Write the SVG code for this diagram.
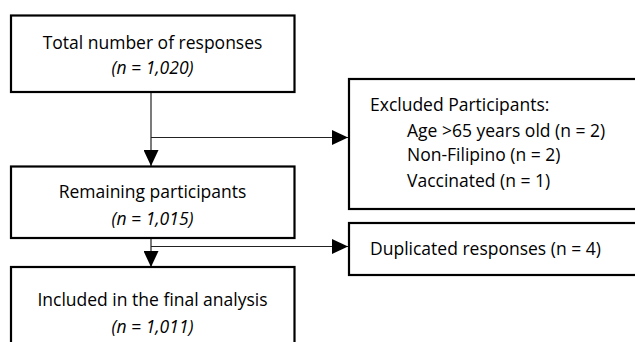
<svg xmlns="http://www.w3.org/2000/svg" width="635" height="342" viewBox="0 0 635 342">
<style>
.box{fill:#fff;stroke:#000;stroke-width:2.2}
.t{font-family:"Open Sans","Noto Sans",sans-serif;font-size:17.5px;fill:#000}
.c{text-anchor:middle}
.i{font-style:italic}
.ln{stroke:#222;stroke-width:1.2;fill:none}
</style>
<defs>
<marker id="ah" markerWidth="16" markerHeight="15" refX="16" refY="7.5" orient="auto" markerUnits="userSpaceOnUse">
<path d="M0,0 L16,7.5 L0,15 Z" fill="#000"/>
</marker>
</defs>
<g id="connectors">
<line class="ln" x1="151" y1="92" x2="151" y2="166" marker-end="url(#ah)"/>
<line class="ln" x1="151" y1="137.5" x2="348" y2="137.5" marker-end="url(#ah)"/>
<line class="ln" x1="151" y1="238" x2="151" y2="267" marker-end="url(#ah)"/>
<line class="ln" x1="151" y1="246.5" x2="348" y2="246.5" marker-end="url(#ah)"/>
</g>
<g id="total">
<rect class="box" x="11" y="15.5" width="283.5" height="76.5"/>
<text class="t c" x="152.5" y="48.5">Total number of responses</text>
<text class="t c i" x="152.5" y="73.5">(n = 1,020)</text>
</g>
<g id="excluded">
<rect class="box" x="349" y="79" width="300" height="130"/>
<text class="t" x="370" y="111">Excluded Participants:</text>
<text class="t" x="407" y="136.5">Age &gt;65 years old (n = 2)</text>
<text class="t" x="407" y="161">Non-Filipino (n = 2)</text>
<text class="t" x="407" y="186.5">Vaccinated (n = 1)</text>
</g>
<g id="remaining">
<rect class="box" x="11" y="166.5" width="283.5" height="71.5"/>
<text class="t c" x="152.5" y="197.5">Remaining participants</text>
<text class="t c i" x="152.5" y="225">(n = 1,015)</text>
</g>
<g id="duplicated">
<rect class="box" x="349" y="223" width="300" height="52"/>
<text class="t" x="370" y="255">Duplicated responses (n = 4)</text>
</g>
<g id="included">
<rect class="box" x="11" y="267" width="283.5" height="90"/>
<text class="t c" x="152.5" y="306">Included in the final analysis</text>
<text class="t c i" x="152.5" y="333">(n = 1,011)</text>
</g>
</svg>
